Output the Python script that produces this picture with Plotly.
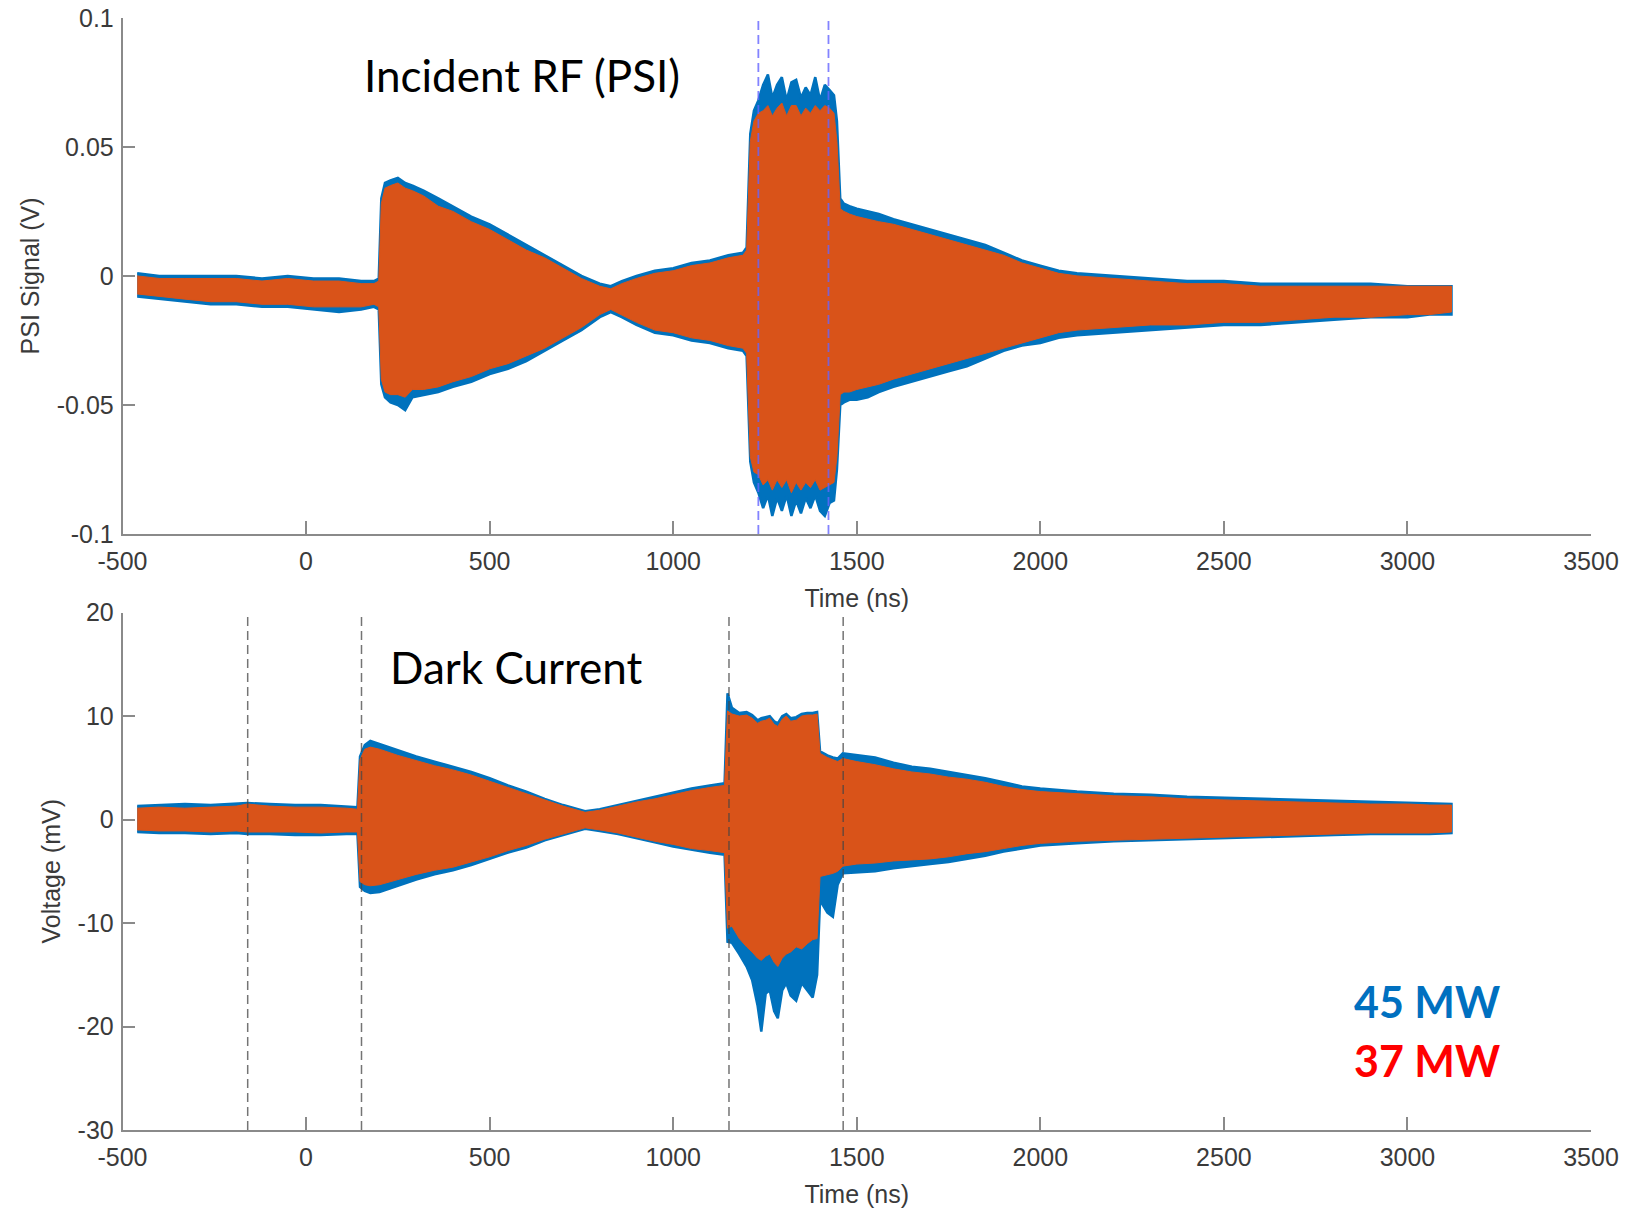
import plotly.graph_objects as go

# ---------------- Incident RF (PSI) envelope, volts ----------------
TIME_PSI = [-460, -400, -330, -260, -190, -120, -50, 20, 90, 150, 185, 198,
            205, 215, 230, 250, 270, 290, 320, 360, 400, 450,
            500, 550, 600, 650, 700, 750, 800, 830, 860, 900,
            950, 1000, 1050, 1100, 1150, 1190, 1200,
            1210, 1220, 1232, 1245, 1258, 1270, 1283, 1296, 1309, 1322,
            1335, 1348, 1361, 1374, 1387, 1400, 1413, 1426, 1438, 1446,
            1455, 1465, 1480, 1500, 1530, 1560, 1600, 1650, 1700, 1750,
            1800, 1850, 1900, 1950, 2000, 2050, 2100, 2200, 2300, 2400,
            2500, 2600, 2700, 2800, 2900, 3000, 3060, 3120]

PSI_37_HI = [0.000, -0.001, -0.001, -0.001, -0.001, -0.002, -0.001, -0.002, -0.002, -0.003, -0.003, -0.002,
             0.028, 0.034, 0.035, 0.036, 0.034, 0.033, 0.031, 0.027, 0.025, 0.021,
             0.018, 0.014, 0.010, 0.007, 0.003, -0.001, -0.004, -0.005, -0.003, -0.001,
             0.001, 0.002, 0.004, 0.005, 0.007, 0.008, 0.010,
             0.052, 0.060, 0.063, 0.064, 0.066, 0.062, 0.065, 0.067, 0.062, 0.066,
             0.066, 0.062, 0.065, 0.063, 0.066, 0.064, 0.066, 0.065, 0.063, 0.052,
             0.026, 0.025, 0.024, 0.023, 0.022, 0.021, 0.020, 0.018, 0.016, 0.014,
             0.012, 0.010, 0.008, 0.005, 0.003, 0.001, 0.000, -0.001, -0.002, -0.003,
             -0.003, -0.004, -0.004, -0.004, -0.004, -0.004, -0.004, -0.004]

PSI_37_LO = [-0.007, -0.008, -0.009, -0.010, -0.010, -0.011, -0.011, -0.012, -0.012, -0.012, -0.011, -0.012,
             -0.040, -0.045, -0.046, -0.046, -0.047, -0.044, -0.044, -0.043, -0.041, -0.039,
             -0.036, -0.034, -0.031, -0.028, -0.024, -0.020, -0.015, -0.013, -0.015, -0.018,
             -0.021, -0.022, -0.024, -0.025, -0.027, -0.028, -0.030,
             -0.070, -0.076, -0.077, -0.081, -0.079, -0.083, -0.079, -0.082, -0.079, -0.084,
             -0.080, -0.083, -0.080, -0.082, -0.079, -0.083, -0.082, -0.081, -0.080, -0.070,
             -0.046, -0.045, -0.045, -0.044, -0.043, -0.042, -0.040, -0.038, -0.036, -0.034,
             -0.032, -0.030, -0.028, -0.026, -0.024, -0.022, -0.021, -0.020, -0.019, -0.019,
             -0.018, -0.018, -0.017, -0.016, -0.016, -0.015, -0.015, -0.014]

PSI_45_HI = [0.001, 0.000, 0.000, 0.000, 0.000, -0.001, 0.000, -0.001, -0.001, -0.002, -0.002, -0.001,
             0.030, 0.036, 0.037, 0.038, 0.036, 0.035, 0.033, 0.030, 0.027, 0.023,
             0.020, 0.016, 0.012, 0.008, 0.004, 0.000, -0.003, -0.004, -0.002, 0.000,
             0.002, 0.003, 0.005, 0.006, 0.008, 0.009, 0.011,
             0.055, 0.064, 0.068, 0.074, 0.078, 0.069, 0.074, 0.077, 0.068, 0.075,
             0.076, 0.069, 0.073, 0.070, 0.077, 0.068, 0.074, 0.072, 0.070, 0.060,
             0.030, 0.028, 0.027, 0.026, 0.025, 0.024, 0.022, 0.020, 0.018, 0.016,
             0.014, 0.012, 0.009, 0.006, 0.004, 0.002, 0.001, 0.000, -0.001, -0.002,
             -0.002, -0.003, -0.003, -0.003, -0.003, -0.004, -0.004, -0.004]

PSI_45_LO = [-0.008, -0.009, -0.010, -0.011, -0.011, -0.012, -0.012, -0.013, -0.014, -0.013, -0.012, -0.013,
             -0.042, -0.047, -0.049, -0.050, -0.052, -0.047, -0.046, -0.045, -0.043, -0.041,
             -0.038, -0.036, -0.033, -0.029, -0.025, -0.021, -0.016, -0.014, -0.016, -0.019,
             -0.022, -0.023, -0.025, -0.026, -0.028, -0.029, -0.031,
             -0.072, -0.080, -0.084, -0.090, -0.085, -0.093, -0.086, -0.091, -0.085, -0.093,
             -0.087, -0.092, -0.086, -0.090, -0.085, -0.091, -0.093, -0.088, -0.087, -0.075,
             -0.050, -0.049, -0.048, -0.048, -0.047, -0.045, -0.043, -0.041, -0.039, -0.037,
             -0.035, -0.032, -0.029, -0.027, -0.026, -0.024, -0.023, -0.022, -0.021, -0.020,
             -0.019, -0.019, -0.018, -0.017, -0.016, -0.016, -0.015, -0.015]

# ---------------- Dark current envelope, mV ----------------
TIME_DC = [-460, -400, -330, -260, -190, -160, -100, -30, 40, 110, 140,
           147, 160, 175, 200, 250, 300, 350, 400, 450, 500,
           550, 600, 650, 700, 760, 800, 850, 900, 950, 1000,
           1050, 1100, 1140,
           1148, 1160, 1180, 1200, 1215, 1230, 1240, 1252, 1263, 1275,
           1285, 1297, 1308, 1320, 1335, 1350, 1365, 1380, 1392,
           1400, 1420, 1435, 1448, 1462,
           1500, 1550, 1600, 1650, 1700, 1750, 1800, 1850, 1900, 1950,
           2000, 2100, 2200, 2300, 2400, 2500, 2600, 2700, 2800, 2900,
           3000, 3060, 3120]

DC_37_HI = [1.1, 1.2, 1.1, 1.2, 1.3, 1.5, 1.3, 1.2, 1.2, 1.1, 1.0,
            5.8, 6.8, 7.0, 6.8, 6.2, 5.7, 5.2, 4.8, 4.3, 3.7,
            3.1, 2.5, 1.9, 1.3, 0.7, 0.9, 1.3, 1.7, 2.0, 2.4,
            2.8, 3.1, 3.3,
            10.5, 10.2, 10.0, 10.1, 9.8, 9.3, 9.5, 9.6, 9.8, 9.2,
            9.0, 9.7, 10.0, 9.5, 9.6, 10.0, 10.1, 10.1, 10.2,
            6.4, 6.0, 5.8, 5.6, 5.9,
            5.6, 5.3, 4.9, 4.6, 4.4, 4.1, 3.9, 3.6, 3.2, 2.9,
            2.7, 2.5, 2.3, 2.2, 2.0, 1.9, 1.8, 1.7, 1.6, 1.5,
            1.5, 1.4, 1.4]

DC_37_LO = [-1.0, -1.1, -1.1, -1.2, -1.1, -1.2, -1.2, -1.2, -1.3, -1.2, -1.2,
            -6.0, -6.3, -6.4, -6.3, -5.8, -5.3, -4.9, -4.6, -4.1, -3.6,
            -3.0, -2.5, -1.9, -1.4, -0.8, -1.0, -1.3, -1.7, -2.1, -2.4,
            -2.8, -3.0, -3.2,
            -10.5, -10.3, -11.5, -12.3, -12.8, -13.4, -13.6, -13.2, -13.0, -13.8,
            -14.2, -13.4, -13.0, -12.8, -12.3, -12.5, -12.0, -11.6, -11.5,
            -5.5, -5.3, -5.2, -5.0, -4.5,
            -4.3, -4.2, -4.0, -3.9, -3.8, -3.6, -3.3, -3.1, -2.8, -2.5,
            -2.3, -2.1, -2.0, -1.9, -1.8, -1.7, -1.6, -1.5, -1.4, -1.3,
            -1.3, -1.3, -1.2]

DC_45_HI = [1.3, 1.4, 1.5, 1.4, 1.5, 1.6, 1.5, 1.4, 1.4, 1.3, 1.2,
            6.1, 7.2, 7.6, 7.3, 6.7, 6.1, 5.6, 5.1, 4.6, 4.0,
            3.3, 2.7, 2.0, 1.4, 0.8, 1.0, 1.4, 1.8, 2.2, 2.6,
            3.0, 3.3, 3.5,
            12.2, 10.8, 10.3, 10.4, 10.1, 9.6, 9.8, 9.9, 10.0, 9.5,
            9.3, 10.0, 10.2, 9.8, 9.9, 10.2, 10.3, 10.3, 10.4,
            6.6, 6.2, 6.0, 5.9, 6.4,
            6.2, 6.0, 5.5, 5.1, 4.9, 4.6, 4.3, 4.0, 3.6, 3.2,
            3.0, 2.7, 2.5, 2.4, 2.2, 2.1, 2.0, 1.9, 1.8, 1.7,
            1.6, 1.6, 1.5]

DC_45_LO = [-1.2, -1.3, -1.3, -1.4, -1.3, -1.4, -1.4, -1.5, -1.5, -1.4, -1.4,
            -6.5, -6.9, -7.1, -7.0, -6.4, -5.8, -5.3, -4.9, -4.4, -3.8,
            -3.2, -2.7, -2.0, -1.5, -0.9, -1.1, -1.4, -1.8, -2.2, -2.6,
            -2.9, -3.2, -3.4,
            -11.8, -11.9, -13.0, -14.2, -15.5, -18.0, -20.5, -16.8, -16.5, -18.5,
            -19.2, -16.5, -15.8, -17.0, -17.5, -15.8, -16.5, -17.2, -15.0,
            -7.8, -9.0, -9.4, -6.3, -5.2,
            -5.1, -5.0, -4.7, -4.5, -4.3, -4.1, -3.8, -3.5, -3.1, -2.8,
            -2.5, -2.3, -2.1, -2.0, -1.9, -1.8, -1.7, -1.6, -1.5, -1.4,
            -1.4, -1.4, -1.3]

# Time markers (ns)
RF_MARKERS = [1232, 1423]
DC_MARKERS = [-159, 151, 1152, 1463]

# Axis ticks
TIME_TICKS = [-500, 0, 500, 1000, 1500, 2000, 2500, 3000, 3500]
TIME_LABELS = ["-500", "0", "500", "1000", "1500", "2000", "2500", "3000", "3500"]
PSI_TICKS = [-0.1, -0.05, 0, 0.05, 0.1]
PSI_LABELS = ["-0.1", "-0.05", "0", "0.05", "0.1"]
DC_TICKS = [-30, -20, -10, 0, 10, 20]
DC_LABELS = ["-30", "-20", "-10", "0", "10", "20"]

BLUE = "#0072BD"
ORANGE = "#D95319"
AXIS_GRAY = "#8a8a8a"
TEXT_GRAY = "#3a3a3a"
TICK_FONT = dict(family="Liberation Sans, Arial, sans-serif", size=25, color=TEXT_GRAY)
LABEL_FONT = "Lato, Calibri, sans-serif"


def band(t, hi, lo, color, xa, ya, lw):
    """Filled envelope between an upper and a lower trace."""
    return go.Scatter(
        x=list(t) + list(t)[::-1],
        y=list(hi) + list(lo)[::-1],
        mode="lines", fill="toself", fillcolor=color,
        line=dict(color=color, width=lw),
        xaxis=xa, yaxis=ya, hoverinfo="skip", showlegend=False,
    )


fig = go.Figure()
fig.add_trace(band(TIME_PSI, PSI_45_HI, PSI_45_LO, BLUE, "x", "y", 2.5))
fig.add_trace(band(TIME_PSI, PSI_37_HI, PSI_37_LO, ORANGE, "x", "y", 1))
fig.add_trace(band(TIME_DC, DC_45_HI, DC_45_LO, BLUE, "x2", "y2", 2.5))
fig.add_trace(band(TIME_DC, DC_37_HI, DC_37_LO, ORANGE, "x2", "y2", 1))

shapes = []
for t in RF_MARKERS:
    shapes.append(dict(type="line", xref="x", yref="y domain", x0=t, x1=t, y0=0, y1=1,
                       line=dict(color="rgba(100,100,255,0.8)", width=1.8, dash="9px,5px"),
                       layer="above"))
for t in DC_MARKERS:
    shapes.append(dict(type="line", xref="x2", yref="y2 domain", x0=t, x1=t, y0=0, y1=1,
                       line=dict(color="rgba(70,70,70,0.75)", width=1.5, dash="9px,5px"),
                       layer="above"))

X_DOMAIN = [122.5 / 1639, 1591 / 1639]
common_x = dict(
    range=[-500, 3500], tickvals=TIME_TICKS, ticktext=TIME_LABELS,
    showline=True, linecolor=AXIS_GRAY, linewidth=1.5, mirror=False,
    ticks="inside", ticklen=13, tickwidth=1.5, tickcolor=AXIS_GRAY,
    showgrid=False, zeroline=False, tickfont=TICK_FONT, ticklabelstandoff=4,
    domain=X_DOMAIN, automargin=False,
)
common_y = dict(
    showline=True, linecolor=AXIS_GRAY, linewidth=1.5, mirror=False,
    ticks="inside", ticklen=13, tickwidth=1.5, tickcolor=AXIS_GRAY,
    showgrid=False, zeroline=False, tickfont=TICK_FONT, ticklabelstandoff=2,
    automargin=False,
)


def label(text, x_px, y_px, size, color, bold=False):
    """Free-standing text placed in figure pixels."""
    return dict(text=f"<b>{text}</b>" if bold else text,
                x=x_px / 1639, y=1 - y_px / 1210, xref="paper", yref="paper",
                xanchor="center", yanchor="middle", showarrow=False,
                font=dict(family=LABEL_FONT, size=size, color=color))


fig.update_layout(
    width=1639, height=1210,
    margin=dict(l=0, r=0, t=0, b=0, autoexpand=False),
    paper_bgcolor="white", plot_bgcolor="white",
    shapes=shapes,
    xaxis=dict(common_x, anchor="y",
               title=dict(text="Time (ns)", font=TICK_FONT, standoff=16)),
    yaxis=dict(common_y, anchor="x", range=[-0.1, 0.1], tickvals=PSI_TICKS, ticktext=PSI_LABELS,
               domain=[1 - 534 / 1210, 1 - 17.8 / 1210],
               title=dict(text="PSI Signal (V)", font=TICK_FONT, standoff=10)),
    xaxis2=dict(common_x, anchor="y2",
                title=dict(text="Time (ns)", font=TICK_FONT, standoff=16)),
    yaxis2=dict(common_y, anchor="x2", range=[-30, 20], tickvals=DC_TICKS, ticktext=DC_LABELS,
                domain=[1 - 1130 / 1210, 1 - 612.6 / 1210],
                title=dict(text="Voltage (mV)", font=TICK_FONT, standoff=10)),
    annotations=[
        label("Incident RF (PSI)", 522, 75, 44, "black"),
        label("Dark Current", 516, 667, 44, "black"),
        label("45 MW", 1427, 1001, 43, "#0070C0", bold=True),
        label("37 MW", 1427, 1060, 43, "#FF0000", bold=True),
    ],
)

fig.write_html("out.html")
